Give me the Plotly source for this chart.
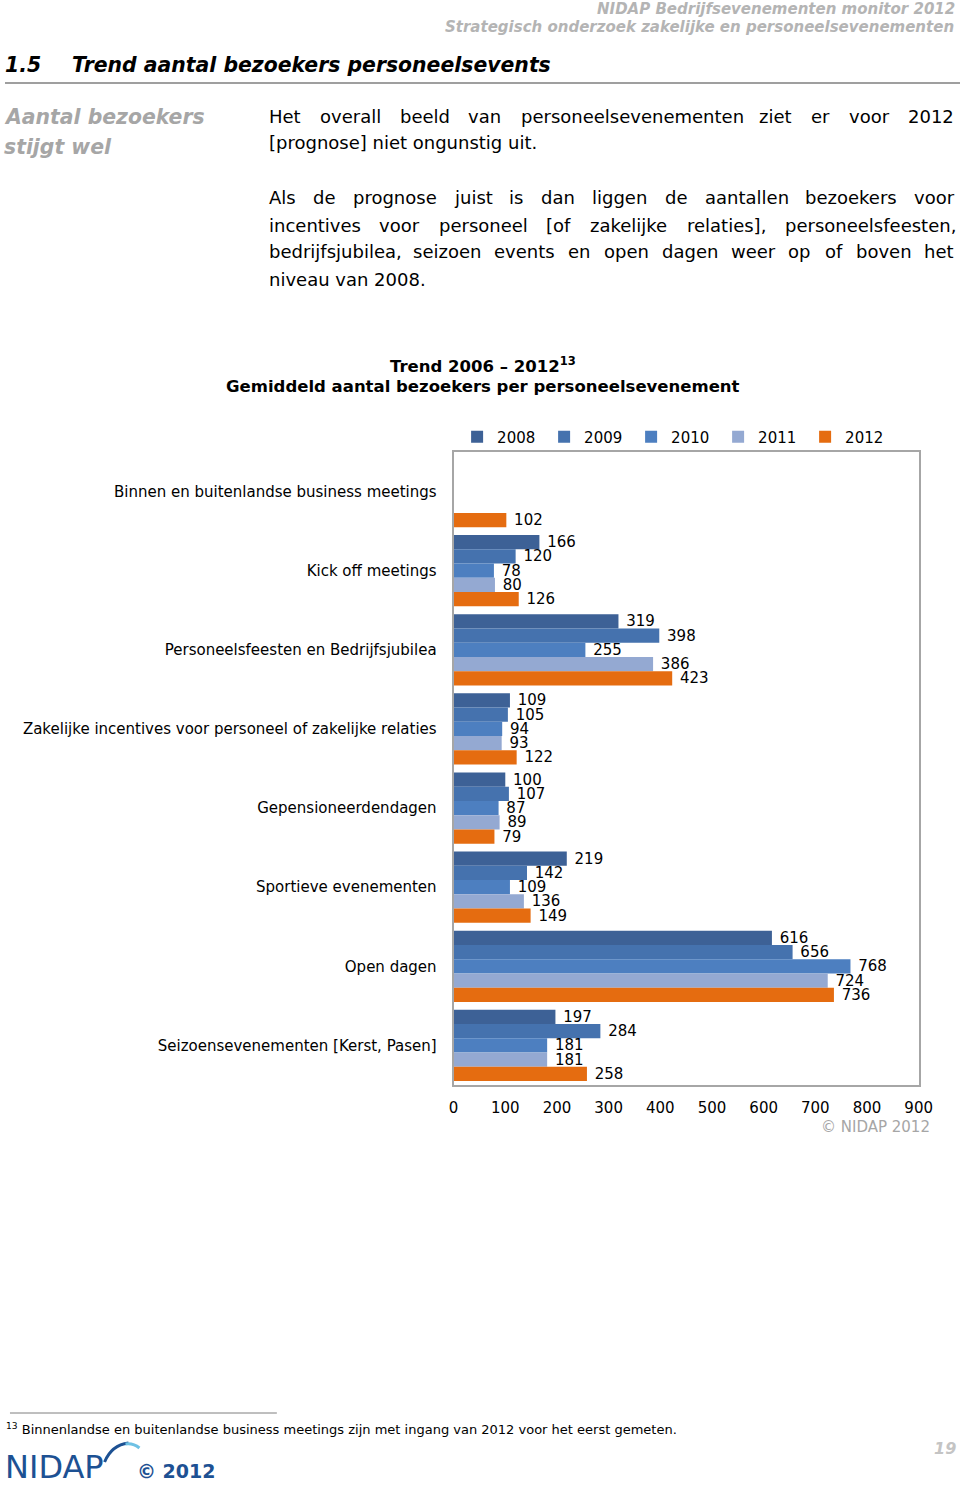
import plotly.graph_objects as go

REF_W, H = 960, 1487      # reference page size (pixels)
W = 975                   # figure width (compensates the horizontal squeeze of the snapshot)
SX = REF_W / W
FONT = "DejaVu Sans"

# ---------------- data ----------------
categories = [
    "Binnen en buitenlandse business meetings",
    "Kick off meetings",
    "Personeelsfeesten en Bedrijfsjubilea",
    "Zakelijke incentives voor personeel of zakelijke relaties",
    "Gepensioneerdendagen",
    "Sportieve evenementen",
    "Open dagen",
    "Seizoensevenementen [Kerst, Pasen]",
]
years = ["2008", "2009", "2010", "2011", "2012"]
v2008 = [None, 166, 319, 109, 100, 219, 616, 197]
v2009 = [None, 120, 398, 105, 107, 142, 656, 284]
v2010 = [None, 78, 255, 94, 87, 109, 768, 181]
v2011 = [None, 80, 386, 93, 89, 136, 724, 181]
v2012 = [102, 126, 423, 122, 79, 149, 736, 258]
colors = ["#3D6196", "#4572AE", "#4D7FC0", "#94A9D2", "#E56C10"]
x_ticks = [0, 100, 200, 300, 400, 500, 600, 700, 800, 900]

series = [v2008, v2009, v2010, v2011, v2012]


def px(x):
    return x / REF_W


def py(y):
    return 1 - y / H


fig = go.Figure()
for name, vals, col in zip(years, series, colors):
    pts = [(c, v) for c, v in zip(categories, vals) if v is not None]
    fig.add_trace(go.Bar(
        y=[c for c, _ in pts], x=[v for _, v in pts], orientation="h", name=name,
        marker=dict(color=col, line=dict(width=0)),
        text=["\u00a0" + str(v) for _, v in pts],
        textposition="outside", constraintext="none", cliponaxis=False,
        textfont=dict(family=FONT, size=15, color="#000000"),
        hoverinfo="skip",
    ))

annotations = []


def ann(text, x, y, size, color="#000000", xanchor="left", bold=False, italic=False):
    annotations.append(dict(
        text=text, x=px(x), y=py(y), xref="paper", yref="paper",
        xanchor=xanchor, yanchor="middle", showarrow=False,
        font=dict(family=FONT, size=size, color=color,
                  weight="bold" if bold else "normal",
                  style="italic" if italic else "normal"),
    ))


# header
ann("NIDAP Bedrijfsevenementen monitor 2012", 956, 9, 15, "#B4B4B4", "right", True, True)
ann("Strategisch onderzoek zakelijke en personeelsevenementen", 955, 27, 15, "#B4B4B4", "right", True, True)
ann("1.5", -2, 65, 20.4, "#000000", "left", True, True)
ann("Trend aantal bezoekers personeelsevents", 65, 65, 20.4, "#000000", "left", True, True)

# sidebar
ann("Aantal bezoekers", -3, 117, 20.4, "#A6A6A6", "left", True, True)
ann("stijgt wel", -3, 147, 20.4, "#A6A6A6", "left", True, True)

# paragraph (justified via approximate glyph widths)
CW = {' ': .318, 'a': .613, 'b': .635, 'c': .550, 'd': .635, 'e': .615, 'f': .352, 'g': .635,
      'h': .634, 'i': .278, 'j': .278, 'k': .579, 'l': .278, 'm': .974, 'n': .634, 'o': .612,
      'p': .635, 'r': .411, 's': .521, 't': .392, 'u': .634, 'v': .592, 'w': .818, 'x': .592,
      'y': .592, 'z': .525, 'A': .684, 'H': .752, '[': .390, ']': .390, ',': .318, '.': .318}
PSIZE = 18
PLEFT = 263


def wwidth(w):
    return sum(CW.get(c, .636) for c in w) * PSIZE * SX


def justified(line, y, left=PLEFT, right=950):
    words = line.split(" ")
    total = sum(wwidth(w) for w in words)
    gap = (right - left - total) / (len(words) - 1)
    x = left
    for w in words:
        ann(w, x, y, PSIZE)
        x += wwidth(w) + gap


justified("Het overall beeld van personeelsevenementen ziet er voor 2012", 116)
ann("[prognose] niet ongunstig uit.", PLEFT, 143, PSIZE)
justified("Als de prognose juist is dan liggen de aantallen bezoekers voor", 198)
justified("incentives voor personeel [of zakelijke relaties], personeelsfeesten,", 225)
justified("bedrijfsjubilea, seizoen events en open dagen weer op of boven het", 252)
ann("niveau van 2008.", PLEFT, 279, PSIZE)

# chart title
ann("<b>Trend 2006 \u2013 2012<sup>13</sup></b>", 480, 365, 16.5, "#000000", "center")
ann("<b>Gemiddeld aantal bezoekers per personeelsevenement</b>", 480, 387, 16.5, "#000000", "center")
ann("\u00a9 NIDAP 2012", 931, 1127, 15, "#A6A6A6", "right")

# footnote
ann("<sup>13</sup> Binnenlandse en buitenlandse business meetings zijn met ingang van 2012 voor het eerst gemeten.",
    -1, 1429, 13)
ann("19", 957, 1448, 16, "#C4C4C4", "right", True, True)

# logo
ann("NIDAP", -2, 1467, 32, "#1D5193", "left")
ann("<b>\u00a9 2012</b>", 131, 1471, 19, "#1D5193", "left")

shapes = [
    dict(type="line", xref="paper", yref="paper", x0=0, x1=1, y0=py(83), y1=py(83),
         line=dict(color="#7F7F7F", width=1.5)),
    dict(type="line", xref="paper", yref="paper", x0=px(5), x1=px(273), y0=py(1413), y1=py(1413),
         line=dict(color="#7F7F7F", width=1)),
    dict(type="path", xref="paper", yref="paper",
         path=f"M{px(100)},{py(1462)} Q{px(107)},{py(1445)} {px(124)},{py(1443)}",
         line=dict(color="#1D5193", width=3)),
    dict(type="path", xref="paper", yref="paper",
         path=f"M{px(121)},{py(1444)} Q{px(129)},{py(1443)} {px(135)},{py(1448)}",
         line=dict(color="#6EC1E4", width=3)),
]

fig.update_layout(
    width=W, height=H,
    margin=dict(l=0, r=0, t=0, b=0),
    paper_bgcolor="white", plot_bgcolor="white",
    barmode="group", bargap=0.1, bargroupgap=0,
    font=dict(family=FONT, size=15, color="#000000"),
    showlegend=True,
    legend=dict(orientation="h", x=px(454), xanchor="left", y=py(437), yanchor="middle",
                font=dict(family=FONT, size=15, color="#000000"),
                entrywidth=42, entrywidthmode="pixels", traceorder="normal",
                bgcolor="rgba(0,0,0,0)", borderwidth=0),
    xaxis=dict(domain=[px(450.5), px(917.5)], range=[0, 900], tickvals=x_ticks,
               ticktext=[str(t) for t in x_ticks], showgrid=False, zeroline=False,
               showline=True, mirror=True, linecolor="#A6A6A6", linewidth=2, ticks="",
               ticklabelstandoff=8, tickfont=dict(family=FONT, size=15, color="#000000"),
               fixedrange=True),
    yaxis=dict(domain=[py(1085), py(452)], type="category", categoryorder="array",
               categoryarray=categories, autorange="reversed",
               showgrid=False, zeroline=False, showline=True, mirror=True,
               linecolor="#A6A6A6", linewidth=2, ticks="", ticklabelstandoff=12,
               tickfont=dict(family=FONT, size=15, color="#000000"), fixedrange=True),
    annotations=annotations,
    shapes=shapes,
)

fig.write_html("out.html", config={"displayModeBar": False},
               post_script="document.body.style.margin='0';document.body.style.overflow='hidden';")
